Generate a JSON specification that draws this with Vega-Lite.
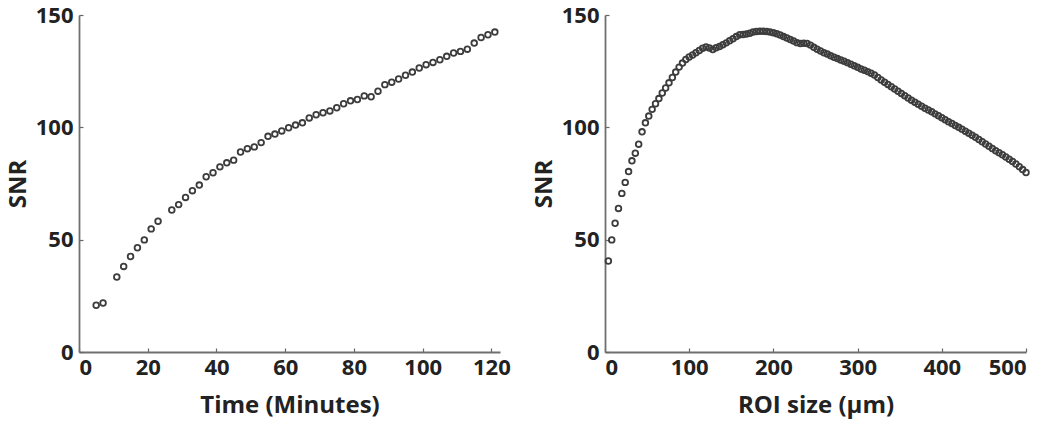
{
  "$schema": "https://vega.github.io/schema/vega-lite/v6.json",
  "padding": {"left": 6, "top": 4, "right": 5, "bottom": 5},
  "spacing": 21,
  "background": "white",
  "config": {
    "font": "Open Sans",
    "view": {"stroke": null},
    "axis": {
      "grid": false,
      "domainColor": "#707070",
      "domainWidth": 1.8,
      "tickColor": "#666666",
      "tickWidth": 1.2,
      "tickSize": -4,
      "labelFont": "Open Sans",
      "labelFontWeight": "bold",
      "labelFontSize": 22,
      "labelColor": "#222222",
      "titleFont": "Open Sans",
      "titleFontWeight": "bold",
      "titleFontSize": 24,
      "titleColor": "#222222"
    },
    "axisX": {"titlePadding": 15, "labelPadding": 9},
    "axisY": {"titlePadding": 5, "labelPadding": 10}
  },
  "datasets": {
    "time": [
      {"t": 5, "snr": 20.8}, {"t": 7, "snr": 21.8}, {"t": 11, "snr": 33.4}, {"t": 13, "snr": 38.1},
      {"t": 15, "snr": 42.5}, {"t": 17, "snr": 46.4}, {"t": 19, "snr": 49.9}, {"t": 21, "snr": 54.8},
      {"t": 23, "snr": 58.2}, {"t": 27, "snr": 63.2}, {"t": 29, "snr": 65.6}, {"t": 31, "snr": 68.8},
      {"t": 33, "snr": 71.8}, {"t": 35, "snr": 74.3}, {"t": 37, "snr": 78.0}, {"t": 39, "snr": 79.8},
      {"t": 41, "snr": 82.4}, {"t": 43, "snr": 84.2}, {"t": 45, "snr": 85.4}, {"t": 47, "snr": 89.0},
      {"t": 49, "snr": 90.5}, {"t": 51, "snr": 91.3}, {"t": 53, "snr": 93.2}, {"t": 55, "snr": 96.0},
      {"t": 57, "snr": 97.0}, {"t": 59, "snr": 98.4}, {"t": 61, "snr": 99.8}, {"t": 63, "snr": 101.0},
      {"t": 65, "snr": 102.0}, {"t": 67, "snr": 104.2}, {"t": 69, "snr": 105.6}, {"t": 71, "snr": 106.5},
      {"t": 73, "snr": 107.3}, {"t": 75, "snr": 108.7}, {"t": 77, "snr": 110.5}, {"t": 79, "snr": 111.8},
      {"t": 81, "snr": 112.4}, {"t": 83, "snr": 114.0}, {"t": 85, "snr": 113.6}, {"t": 87, "snr": 116.1},
      {"t": 89, "snr": 119.0}, {"t": 91, "snr": 120.1}, {"t": 93, "snr": 121.5}, {"t": 95, "snr": 123.2},
      {"t": 97, "snr": 124.6}, {"t": 99, "snr": 126.4}, {"t": 101, "snr": 127.9}, {"t": 103, "snr": 128.9},
      {"t": 105, "snr": 130.1}, {"t": 107, "snr": 131.6}, {"t": 109, "snr": 133.1}, {"t": 111, "snr": 133.8},
      {"t": 113, "snr": 134.8}, {"t": 115, "snr": 137.5}, {"t": 117, "snr": 140.0}, {"t": 119, "snr": 141.2},
      {"t": 121, "snr": 142.4}
    ],
    "roi": [
      {"r": 4, "snr": 40.5}, {"r": 8, "snr": 49.9}, {"r": 12, "snr": 57.3}, {"r": 16, "snr": 63.9},
      {"r": 20, "snr": 70.6}, {"r": 24, "snr": 75.5}, {"r": 28, "snr": 80.3}, {"r": 32, "snr": 85.1},
      {"r": 36, "snr": 88.5}, {"r": 40, "snr": 92.5}, {"r": 44, "snr": 98.0}, {"r": 48, "snr": 102.0},
      {"r": 52, "snr": 105.0}, {"r": 56, "snr": 108.0}, {"r": 60, "snr": 110.5}, {"r": 64, "snr": 112.8},
      {"r": 68, "snr": 115.3}, {"r": 72, "snr": 117.5}, {"r": 76, "snr": 119.8}, {"r": 80, "snr": 122.2},
      {"r": 84, "snr": 124.6}, {"r": 88, "snr": 126.8}, {"r": 92, "snr": 128.6}, {"r": 96, "snr": 130.2},
      {"r": 100, "snr": 131.3}, {"r": 104, "snr": 132.2}, {"r": 108, "snr": 133.2}, {"r": 112, "snr": 134.2},
      {"r": 116, "snr": 135.2}, {"r": 120, "snr": 135.8}, {"r": 124, "snr": 135.3}, {"r": 128, "snr": 134.6},
      {"r": 132, "snr": 135.4}, {"r": 136, "snr": 136.0}, {"r": 140, "snr": 136.8}, {"r": 144, "snr": 137.6},
      {"r": 148, "snr": 138.5}, {"r": 152, "snr": 139.4}, {"r": 156, "snr": 140.4}, {"r": 160, "snr": 141.2},
      {"r": 164, "snr": 141.3}, {"r": 168, "snr": 141.5}, {"r": 172, "snr": 141.9}, {"r": 176, "snr": 142.4},
      {"r": 180, "snr": 142.7}, {"r": 184, "snr": 142.8}, {"r": 188, "snr": 142.8}, {"r": 192, "snr": 142.7},
      {"r": 196, "snr": 142.4}, {"r": 200, "snr": 142.1}, {"r": 204, "snr": 141.7}, {"r": 208, "snr": 141.1},
      {"r": 212, "snr": 140.4}, {"r": 216, "snr": 139.8}, {"r": 220, "snr": 139.1}, {"r": 224, "snr": 138.4},
      {"r": 228, "snr": 137.7}, {"r": 232, "snr": 137.3}, {"r": 236, "snr": 137.4}, {"r": 240, "snr": 137.3},
      {"r": 244, "snr": 136.6}, {"r": 248, "snr": 135.6}, {"r": 252, "snr": 134.8}, {"r": 256, "snr": 134.0},
      {"r": 260, "snr": 133.2}, {"r": 264, "snr": 132.6}, {"r": 268, "snr": 131.9}, {"r": 272, "snr": 131.2},
      {"r": 276, "snr": 130.6}, {"r": 280, "snr": 130.0}, {"r": 284, "snr": 129.4}, {"r": 288, "snr": 128.8},
      {"r": 292, "snr": 128.1}, {"r": 296, "snr": 127.4}, {"r": 300, "snr": 126.7}, {"r": 304, "snr": 126.0},
      {"r": 308, "snr": 125.4}, {"r": 312, "snr": 124.8}, {"r": 316, "snr": 124.1}, {"r": 320, "snr": 123.3},
      {"r": 324, "snr": 122.2}, {"r": 328, "snr": 121.1}, {"r": 332, "snr": 120.1}, {"r": 336, "snr": 119.1},
      {"r": 340, "snr": 118.1}, {"r": 344, "snr": 117.1}, {"r": 348, "snr": 116.1}, {"r": 352, "snr": 115.1},
      {"r": 356, "snr": 114.1}, {"r": 360, "snr": 113.1}, {"r": 364, "snr": 112.1}, {"r": 368, "snr": 111.2},
      {"r": 372, "snr": 110.3}, {"r": 376, "snr": 109.4}, {"r": 380, "snr": 108.5}, {"r": 384, "snr": 107.7},
      {"r": 388, "snr": 106.9}, {"r": 392, "snr": 106.0}, {"r": 396, "snr": 105.2}, {"r": 400, "snr": 104.3},
      {"r": 404, "snr": 103.4}, {"r": 408, "snr": 102.5}, {"r": 412, "snr": 101.7}, {"r": 416, "snr": 100.8},
      {"r": 420, "snr": 100.0}, {"r": 424, "snr": 99.2}, {"r": 428, "snr": 98.3}, {"r": 432, "snr": 97.4},
      {"r": 436, "snr": 96.5}, {"r": 440, "snr": 95.6}, {"r": 444, "snr": 94.6}, {"r": 448, "snr": 93.6},
      {"r": 452, "snr": 92.6}, {"r": 456, "snr": 91.6}, {"r": 460, "snr": 90.6}, {"r": 464, "snr": 89.6},
      {"r": 468, "snr": 88.7}, {"r": 472, "snr": 87.8}, {"r": 476, "snr": 86.8}, {"r": 480, "snr": 85.8},
      {"r": 484, "snr": 84.8}, {"r": 488, "snr": 83.7}, {"r": 492, "snr": 82.5}, {"r": 496, "snr": 81.2},
      {"r": 500, "snr": 79.9}
    ]
  },
  "hconcat": [
    {
      "width": 421,
      "height": 337,
      "data": {"name": "time"},
      "mark": {"type": "point", "shape": "circle", "filled": false, "size": 32, "strokeWidth": 1.8, "color": "#3c3c3c", "opacity": 1},
      "encoding": {
        "x": {
          "field": "t", "type": "quantitative",
          "scale": {"domain": [0, 122.5], "nice": false, "zero": true},
          "axis": {"values": [0, 20, 40, 60, 80, 100, 120], "title": "Time (Minutes)"}
        },
        "y": {
          "field": "snr", "type": "quantitative",
          "scale": {"domain": [0, 150], "nice": false},
          "axis": {"values": [0, 50, 100, 150], "title": "SNR"}
        }
      }
    },
    {
      "width": 421,
      "height": 337,
      "data": {"name": "roi"},
      "mark": {"type": "point", "shape": "circle", "filled": false, "size": 32, "strokeWidth": 1.8, "color": "#3c3c3c", "opacity": 1},
      "encoding": {
        "x": {
          "field": "r", "type": "quantitative",
          "scale": {"domain": [0, 500], "nice": false},
          "axis": {"values": [0, 100, 200, 300, 400, 500], "title": "ROI size (µm)"}
        },
        "y": {
          "field": "snr", "type": "quantitative",
          "scale": {"domain": [0, 150], "nice": false},
          "axis": {"values": [0, 50, 100, 150], "title": "SNR"}
        }
      }
    }
  ]
}
